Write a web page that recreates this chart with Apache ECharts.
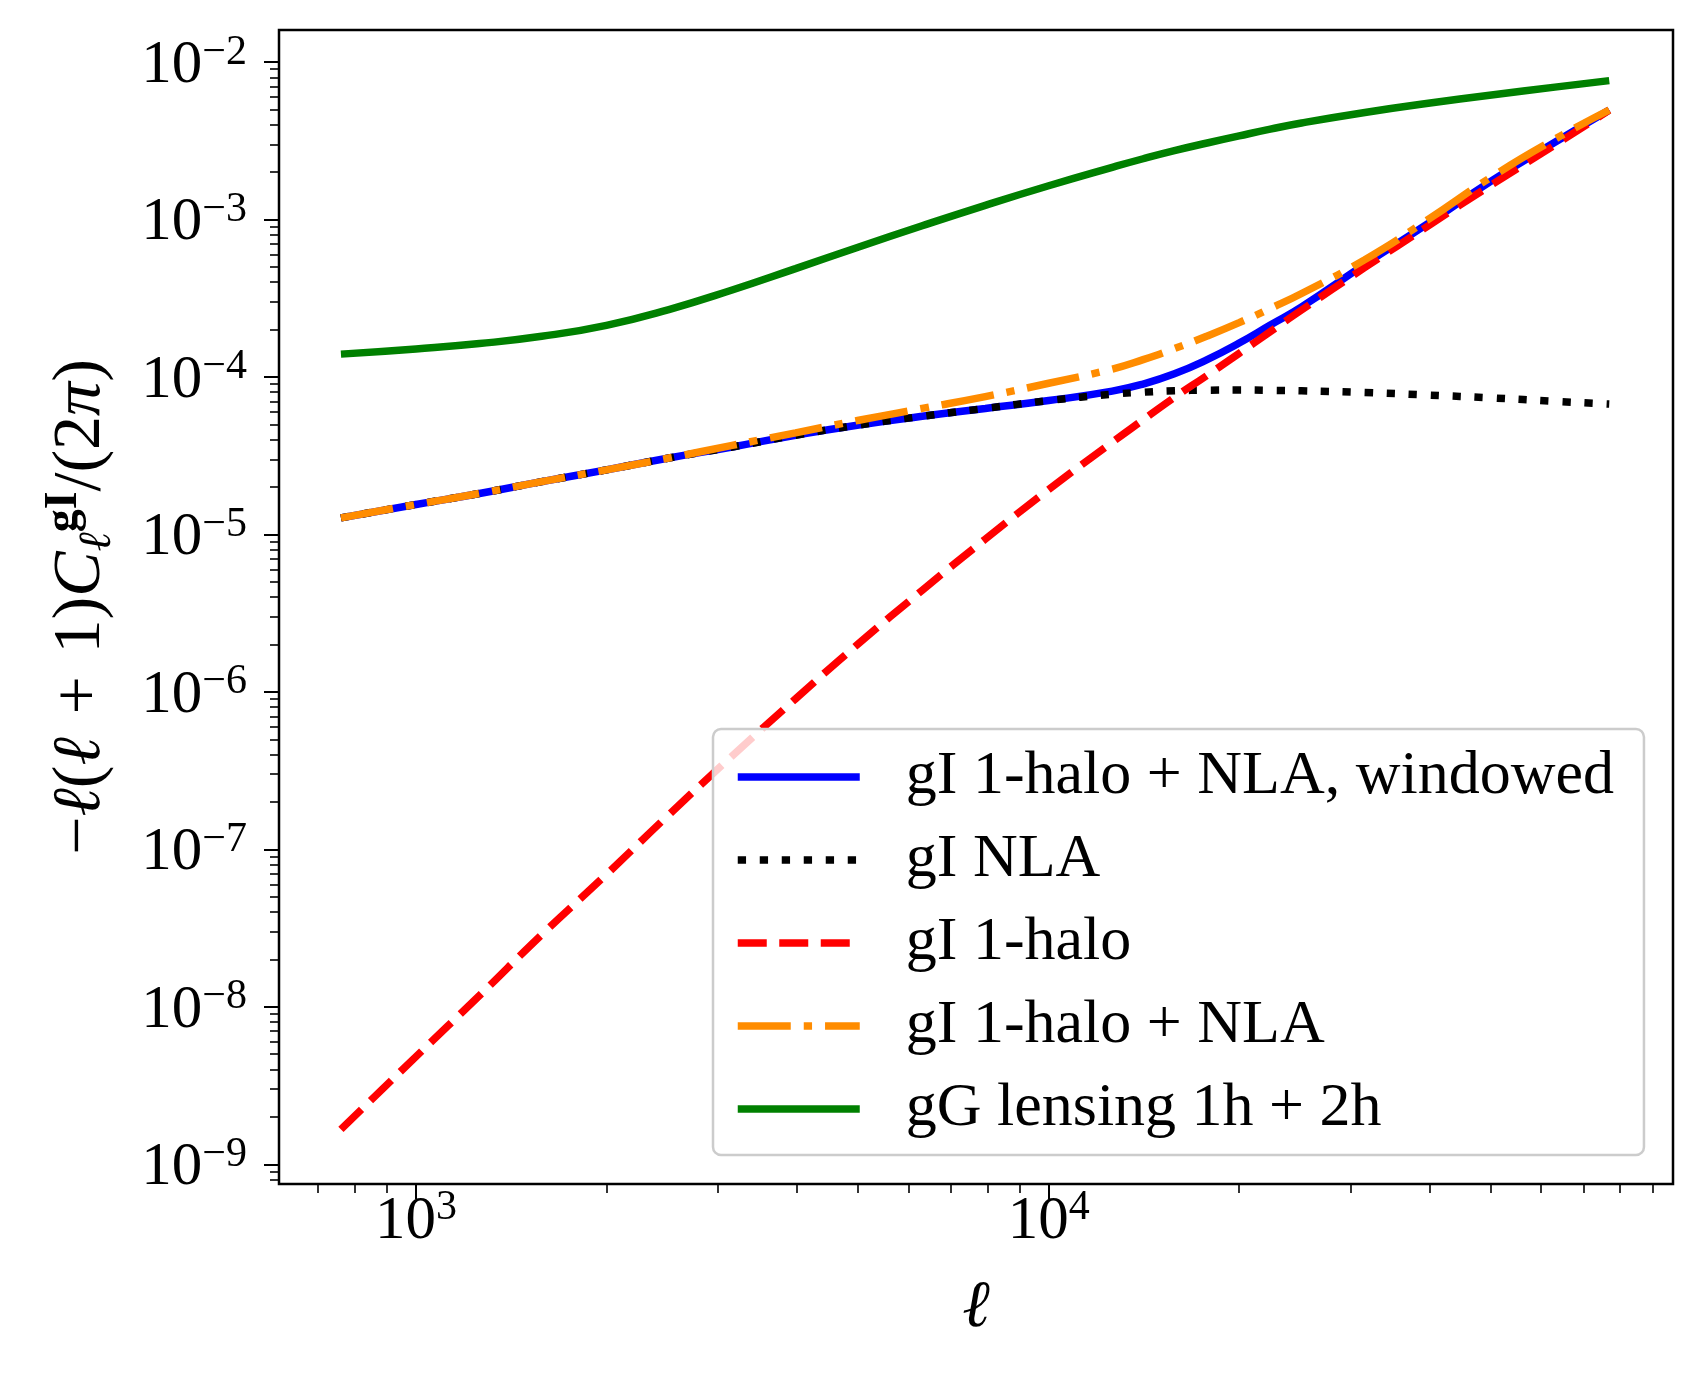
<!DOCTYPE html>
<html>
<head>
<meta charset="utf-8">
<script src="https://cdn.jsdelivr.net/npm/echarts@6/dist/echarts.min.js"></script>
<style>html,body{margin:0;padding:0;background:#fff}#c{width:1703px;height:1376px}</style>
</head>
<body>
<div id="c"></div>
<script>
// multipole ell
const ells = [761, 1000, 1260, 1580, 2000, 2510, 3160, 3980, 5010, 6310, 7940, 10000, 12600, 14100, 15800, 17800, 20000, 22400, 25100, 31600, 39800, 50100, 63100, 76900];
// -l(l+1)C_l/(2pi)
const gI1hNLAwindowed = [1.274e-5, 1.549e-5, 1.820e-5, 2.163e-5, 2.570e-5, 3.055e-5, 3.589e-5, 4.266e-5, 4.955e-5, 5.623e-5, 6.310e-5, 7.079e-5, 8.128e-5, 9.016e-5, 1.047e-4, 1.288e-4, 1.641e-4, 2.138e-4, 2.786e-4, 5.188e-4, 9.441e-4, 1.758e-3, 3.090e-3, 4.955e-3];
const gINLA = [1.274e-5, 1.549e-5, 1.820e-5, 2.163e-5, 2.570e-5, 3.055e-5, 3.589e-5, 4.266e-5, 4.955e-5, 5.623e-5, 6.310e-5, 7.079e-5, 7.762e-5, 7.998e-5, 8.166e-5, 8.241e-5, 8.260e-5, 8.222e-5, 8.166e-5, 7.962e-5, 7.674e-5, 7.362e-5, 6.998e-5, 6.730e-5];
const gI1halo = [1.667e-9, 4.831e-9, 1.180e-8, 2.871e-8, 6.934e-8, 1.660e-7, 3.917e-7, 9.036e-7, 2.032e-6, 4.416e-6, 9.333e-6, 1.928e-5, 3.846e-5, 5.341e-5, 7.413e-5, 1.023e-4, 1.413e-4, 1.939e-4, 2.661e-4, 4.955e-4, 9.120e-4, 1.660e-3, 2.972e-3, 4.955e-3];
const gI1hNLA = [1.274e-5, 1.549e-5, 1.820e-5, 2.163e-5, 2.570e-5, 3.055e-5, 3.673e-5, 4.416e-5, 5.309e-5, 6.310e-5, 7.499e-5, 9.120e-5, 1.122e-4, 1.288e-4, 1.514e-4, 1.820e-4, 2.213e-4, 2.723e-4, 3.388e-4, 5.559e-4, 1.000e-3, 1.862e-3, 3.236e-3, 4.955e-3];
const gGlensing = [1.396e-4, 1.507e-4, 1.629e-4, 1.811e-4, 2.128e-4, 2.679e-4, 3.565e-4, 4.875e-4, 6.683e-4, 9.120e-4, 1.230e-3, 1.637e-3, 2.143e-3, 2.430e-3, 2.735e-3, 3.059e-3, 3.396e-3, 3.746e-3, 4.098e-3, 4.780e-3, 5.464e-3, 6.173e-3, 6.927e-3, 7.617e-3];

const seriesNames = ['gI 1-halo + NLA, windowed', 'gI NLA', 'gI 1-halo', 'gI 1-halo + NLA', 'gG lensing 1h + 2h'];

// tick values
const xMajorTicks = [1e3, 1e4];
const yMajorTicks = [1e-9, 1e-8, 1e-7, 1e-6, 1e-5, 1e-4, 1e-3, 1e-2];
const mantissas = [2, 3, 4, 5, 6, 7, 8, 9];
const xDecades = [1e2, 1e3, 1e4];
const yDecades = [1e-10, 1e-9, 1e-8, 1e-7, 1e-6, 1e-5, 1e-4, 1e-3];

// axis extent (in decades)
const xRange = [2.7835, 4.9867];
const yRange = [-9.125, -1.7968];

const lg = v => Math.log10(v);
const inX = v => v >= xRange[0] && v <= xRange[1];
const inY = v => v >= yRange[0] && v <= yRange[1];
const xMinor = [], yMinor = [];
xDecades.forEach(d => mantissas.forEach(m => { const v = lg(m * d); if (inX(v)) xMinor.push(v); }));
yDecades.forEach(d => mantissas.forEach(m => { const v = lg(m * d); if (inY(v)) yMinor.push(v); }));

const fam = "'Liberation Serif','DejaVu Serif',serif";
const tickRich = {
  b: {fontSize: 61, lineHeight: 61, fontFamily: fam, color: '#000', padding: [18, 0, 10, 0]},
  s: {fontSize: 42, lineHeight: 42, fontFamily: fam, color: '#000', verticalAlign: 'top'}
};
const powFmt = v => {
  const e = Math.round(v);
  return '{b|10}{s|' + (e < 0 ? '\u2212' : '') + Math.abs(e) + '}';
};

const chart = echarts.init(document.getElementById('c'), null, {renderer: 'canvas'});

function mk(name, vals, color, type, z) {
  return {
    name, type: 'line',
    data: ells.map((l, i) => [lg(l), lg(vals[i])]),
    xAxisIndex: 0, yAxisIndex: 0,
    showSymbol: false, symbol: 'none', smooth: 0.5,
    lineStyle: {color, width: 7.5, type, cap: 'butt'},
    itemStyle: {color},
    z, animation: false
  };
}

const option = {
  animation: false,
  backgroundColor: '#fff',
  grid: {left: 279, right: 30, top: 30, bottom: 192, show: true, borderColor: '#000', borderWidth: 2.5,
         containLabel: false, outerBoundsMode: 'none'},
  xAxis: [
    {type: 'value', min: xRange[0], max: xRange[1], position: 'bottom',
     axisLine: {show: false}, splitLine: {show: false},
     axisTick: {show: true, customValues: xMajorTicks.map(lg), length: 15, lineStyle: {width: 2, color: '#000'}},
     axisLabel: {show: true, customValues: xMajorTicks.map(lg), formatter: powFmt, rich: tickRich, margin: 3},
     name: '\u2113', nameLocation: 'middle', nameGap: 92,
     nameTextStyle: {fontSize: 66, fontFamily: fam, fontStyle: 'italic', color: '#000'}},
    {type: 'value', min: xRange[0], max: xRange[1], position: 'bottom',
     axisLine: {show: false}, splitLine: {show: false},
     axisTick: {show: true, customValues: xMinor, length: 9, lineStyle: {width: 1.6, color: '#000'}},
     axisLabel: {show: false}}
  ],
  yAxis: [
    {type: 'value', min: yRange[0], max: yRange[1], position: 'left',
     axisLine: {show: false}, splitLine: {show: false},
     axisTick: {show: true, customValues: yMajorTicks.map(lg), length: 15, lineStyle: {width: 2, color: '#000'}},
     axisLabel: {show: true, customValues: yMajorTicks.map(lg), formatter: powFmt, rich: tickRich, margin: 32},
     name: '{n|\u2212}{i|\u2113}{n|(}{i|\u2113}{n|\u2004+\u20041)}{i|C}{sub|\u2113}{sup|gI}{n|/(2}{i|\u03c0}{n|)}',
     nameLocation: 'middle', nameRotate: 90, nameGap: 158,
     nameTextStyle: {
       color: '#000', fontFamily: fam, fontSize: 68,
       rich: {
         n: {fontSize: 68, lineHeight: 80, fontFamily: fam, color: '#000'},
         i: {fontSize: 68, lineHeight: 80, fontFamily: fam, fontStyle: 'italic', color: '#000'},
         sup: {fontSize: 46, lineHeight: 46, fontFamily: fam, fontWeight: 'bold', color: '#000', verticalAlign: 'top'},
         sub: {fontSize: 46, lineHeight: 46, fontFamily: fam, fontStyle: 'italic', color: '#000', verticalAlign: 'bottom'}
       }
     }},
    {type: 'value', min: yRange[0], max: yRange[1], position: 'left',
     axisLine: {show: false}, splitLine: {show: false},
     axisTick: {show: true, customValues: yMinor, length: 9, lineStyle: {width: 1.6, color: '#000'}},
     axisLabel: {show: false}}
  ],
  legend: {
    data: seriesNames,
    orient: 'vertical', left: 713, top: 729,
    padding: [17, 30, 15, 21],
    itemWidth: 122, itemHeight: 20, itemGap: 21,
    backgroundColor: 'rgba(255,255,255,0.8)', borderColor: '#cccccc', borderWidth: 2.5, borderRadius: 8,
    selectedMode: false,
    itemStyle: {opacity: 0},
    lineStyle: {width: 'inherit', type: 'inherit'},
    textStyle: {fontSize: 62, lineHeight: 60, fontFamily: fam, color: '#000', padding: [0, 0, 0, 41]},
    z: 20
  },
  series: [
    mk(seriesNames[0], gI1hNLAwindowed, '#0000ff', 'solid', 2),
    mk(seriesNames[1], gINLA, '#000000', [8.3, 13.7], 3),
    mk(seriesNames[2], gI1halo, '#ff0000', [29, 12.5], 4),
    mk(seriesNames[3], gI1hNLA, '#ff8c00', [53, 13, 8.3, 13], 5),
    mk(seriesNames[4], gGlensing, '#008000', 'solid', 6)
  ]
};
chart.setOption(option);
</script>
</body>
</html>
